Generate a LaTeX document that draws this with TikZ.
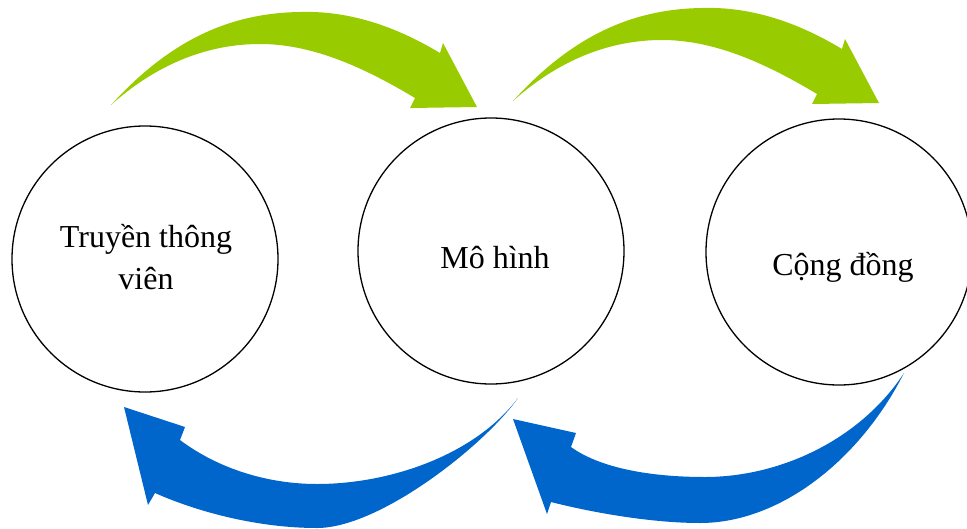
\documentclass[tikz,border=0pt]{standalone}
\usepackage{fontspec}
\setmainfont{Liberation Serif}
\definecolor{arrgreen}{HTML}{99CC00}
\definecolor{arrblue}{HTML}{0066CC}
\begin{document}
\begin{tikzpicture}[x=1pt,y=-1pt,
  circ/.style={draw=black,line width=1.3pt,circle,minimum size=266pt,inner sep=0pt},
  lbl/.style={font=\fontsize{32}{42}\selectfont,align=center,inner sep=0pt}]
\useasboundingbox (0,0) rectangle (967,528);
% circles
\node[circ] (c1) at (145,259) {};
\node[circ] (c2) at (491,251) {};
\node[circ] (c3) at (839,252) {};
% labels
\node[lbl] (t1) at (146,257) {Truyền thông\\viên};
\node[lbl] (t2) at (495,258) {Mô hình};
\node[lbl] (t3) at (843,267) {Cộng đồng};
% green arrows (same shape, shifted)
\foreach \dx/\dy in {0/0,402/-4}{
\begin{scope}[shift={(\dx,\dy)}]
\fill[arrgreen] (111,105) .. controls (170,40) and (230,13) .. (300,12)
  .. controls (360,10) and (410,35) .. (440,53)
  -- (443,43) -- (477,107) -- (410,108) -- (415,98)
  .. controls (360,65) and (310,44) .. (260,44)
  .. controls (200,44) and (150,70) .. (111,105) -- cycle;
\end{scope}}
% blue arrow 1
\fill[arrblue] (518,398) .. controls (485,445) and (380,528) .. (317,528)
  .. controls (260,528) and (200,513) .. (155,493)
  -- (148,505) -- (124,407) -- (185,427) -- (180,440)
  .. controls (220,470) and (270,484) .. (317,484)
  .. controls (390,484) and (475,455) .. (518,398) -- cycle;
% blue arrow 2
\fill[arrblue] (904,373) .. controls (860,460) and (780,523) .. (700,523)
  .. controls (650,523) and (590,512) .. (551,502)
  -- (547,514) -- (513,419) -- (576,433) -- (571,447)
  .. controls (600,468) and (650,477) .. (705,477)
  .. controls (780,477) and (860,440) .. (904,373) -- cycle;
\end{tikzpicture}
\end{document}
